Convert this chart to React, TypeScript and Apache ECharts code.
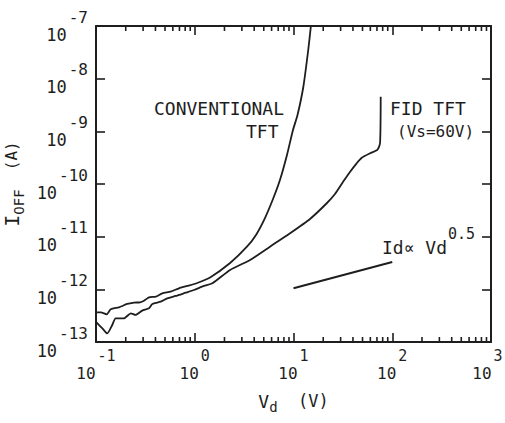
import React, { useEffect, useRef } from 'react';
import * as echarts from 'echarts';

// Conventional TFT (upper curve at low Vd)
const convVd = [0.1, 0.112, 0.128, 0.141, 0.171, 0.207, 0.243, 0.279, 0.306, 0.344, 0.403, 0.469, 0.57, 0.693, 0.841, 1.06, 1.43, 2.28, 3.36, 4.17, 5.14, 6.2, 7.29, 8.59, 9.88, 10.98, 12.57, 14.1, 15.0];
const convIoff = [3.66e-13, 3.66e-13, 3.36e-13, 4.18e-13, 4.56e-13, 5.27e-13, 5.58e-13, 5.68e-13, 6.08e-13, 7.06e-13, 7.25e-13, 8.41e-13, 9.02e-13, 1.047e-12, 1.158e-12, 1.32e-12, 1.68e-12, 3.16e-12, 6.37e-12, 1.08e-11, 2.26e-11, 5.19e-11, 1.19e-10, 3.56e-10, 1.06e-9, 2.04e-9, 6.95e-9, 3.5e-8, 1e-7];

// FID TFT (Vs = 60 V)
const fidVd = [0.1, 0.116, 0.13, 0.146, 0.158, 0.192, 0.225, 0.252, 0.294, 0.344, 0.372, 0.452, 0.527, 0.641, 0.809, 0.982, 1.24, 1.51, 2.28, 3.63, 5.78, 9.22, 14.7, 21.7, 26.3, 31.9, 37.3, 43.6, 49.1, 59.6, 70.6, 75.2, 76.4];
const fidIoff = [2.4e-13, 1.82e-13, 1.46e-13, 2.1e-13, 2.82e-13, 2.82e-13, 3.51e-13, 3.26e-13, 3.94e-13, 4.36e-13, 5.27e-13, 5.83e-13, 6.76e-13, 7.48e-13, 8.63e-13, 9.72e-13, 1.16e-12, 1.3e-12, 2.33e-12, 3.61e-12, 6.46e-12, 1.16e-11, 2.17e-11, 4.31e-11, 6.46e-11, 1.11e-10, 1.69e-10, 2.47e-10, 3.16e-10, 3.83e-10, 4.43e-10, 5.93e-10, 4.55e-9];

// Reference slope Id ∝ Vd^0.5
const slopeVd = [10, 100];
const slopeIoff = [1.05e-12, 3.3e-12];

// Axes
const xMin = 0.1;
const xMax = 1000;
const yMin = 1e-13;
const yMax = 1e-7;
const xDecades = [0.1, 1, 10, 100];
const minorMultipliers = [2, 3, 4, 5, 6, 7, 8, 9];

const FONT = 'DejaVu Sans Mono';
const INK = '#1e1e1e';

// minor tick values on the log x axis (2..9 in each decade)
const minorTicks: number[] = [];
xDecades.forEach((d) => minorMultipliers.forEach((m) => minorTicks.push(+(d * m).toPrecision(3))));

const toPairs = (xs: number[], ys: number[]) => xs.map((x, i) => [x, ys[i]]);
const expOf = (v: number) => String(Math.round(Math.log10(v)));

export default function App() {
  const ref = useRef<HTMLDivElement>(null);

  useEffect(() => {
    if (!ref.current) return;
    const chart = echarts.init(ref.current, undefined, { renderer: 'svg' });

    const lineStyle = { color: INK, width: 1.6 };
    const baseAxisLine = { show: true, onZero: false, lineStyle: { color: INK, width: 2 } };

    const xRich = {
      b: { fontFamily: FONT, fontSize: 16, color: INK, lineHeight: 33, verticalAlign: 'bottom' },
      e: { fontFamily: FONT, fontSize: 15, color: INK, lineHeight: 33, verticalAlign: 'top', padding: [0, 0, 0, 2] },
      el: { fontFamily: FONT, fontSize: 15, color: INK, lineHeight: 33, verticalAlign: 'top', padding: [0, 7, 0, 2] },
    };
    const yRich = {
      b: { fontFamily: FONT, fontSize: 17, color: INK, lineHeight: 34, verticalAlign: 'bottom' },
      e: { fontFamily: FONT, fontSize: 16, color: INK, lineHeight: 34, verticalAlign: 'top', padding: [0, 0, 0, 2] },
    };

    const xCommon = { type: 'log', logBase: 10, min: xMin, max: xMax, gridIndex: 0, splitLine: { show: false }, minorTick: { show: false } };
    const yCommon = { type: 'log', logBase: 10, min: yMin, max: yMax, gridIndex: 0, splitLine: { show: false }, minorTick: { show: false } };

    const majorTickLen = 9;
    const minorTickLen = 5;

    const option: any = {
      animation: false,
      backgroundColor: '#ffffff',
      grid: { left: 96, right: 14, top: 26, bottom: 81, containLabel: false, outerBoundsMode: 'none' },
      xAxis: [
        {
          ...xCommon,
          position: 'bottom',
          axisLine: baseAxisLine,
          axisTick: { show: true, inside: true, length: majorTickLen, lineStyle },
          axisLabel: {
            show: true,
            margin: 6,
            showMinLabel: true,
            showMaxLabel: true,
            formatter: (v: number) => (v >= xMax * 0.999 ? `{b|10}{el|${expOf(v)}}` : `{b|10}{e|${expOf(v)}}`),
            rich: xRich,
          },
          name: '{v|V}{s|d}{n|  (V)}',
          nameLocation: 'middle',
          nameGap: 46,
          nameTextStyle: {
            rich: {
              v: { fontFamily: FONT, fontSize: 18, color: INK, lineHeight: 26, verticalAlign: 'middle' },
              s: { fontFamily: FONT, fontSize: 14, color: INK, lineHeight: 26, verticalAlign: 'bottom' },
              n: { fontFamily: FONT, fontSize: 17, color: INK, lineHeight: 26, verticalAlign: 'middle' },
            },
          },
        },
        {
          ...xCommon,
          position: 'top',
          axisLine: baseAxisLine,
          axisTick: { show: true, inside: true, length: majorTickLen, lineStyle },
          axisLabel: { show: false },
        },
      ],
      yAxis: [
        {
          ...yCommon,
          position: 'left',
          axisLine: baseAxisLine,
          axisTick: { show: true, inside: true, length: majorTickLen, lineStyle },
          axisLabel: {
            show: true,
            margin: 8,
            showMinLabel: true,
            showMaxLabel: true,
            formatter: (v: number) => `{b|10}{e|${expOf(v)}}`,
            rich: yRich,
          },
          name: '{i|I}{s|OFF}{n|  (A)}',
          nameLocation: 'middle',
          nameGap: 64,
          nameRotate: 90,
          nameTextStyle: {
            rich: {
              i: { fontFamily: FONT, fontSize: 20, color: INK, lineHeight: 28, verticalAlign: 'middle' },
              s: { fontFamily: FONT, fontSize: 14, color: INK, lineHeight: 28, verticalAlign: 'bottom' },
              n: { fontFamily: FONT, fontSize: 16, color: INK, lineHeight: 28, verticalAlign: 'middle' },
            },
          },
        },
        {
          ...yCommon,
          position: 'right',
          axisLine: baseAxisLine,
          axisTick: { show: true, inside: true, length: majorTickLen, lineStyle },
          axisLabel: { show: false },
        },
      ],
      series: [
        {
          name: 'minor ticks',
          type: 'custom',
          xAxisIndex: 0,
          yAxisIndex: 0,
          silent: true,
          clip: false,
          data: minorTicks.map((v) => [v, yMin]),
          renderItem: (_params: any, api: any) => {
            const x = api.value(0);
            const pb = api.coord([x, yMin]);
            const pt = api.coord([x, yMax]);
            const style = { stroke: INK, lineWidth: 1.6 };
            return {
              type: 'group',
              children: [
                { type: 'line', shape: { x1: pb[0], y1: pb[1], x2: pb[0], y2: pb[1] - minorTickLen }, style },
                { type: 'line', shape: { x1: pt[0], y1: pt[1], x2: pt[0], y2: pt[1] + minorTickLen }, style },
              ],
            };
          },
        },
        {
          name: 'CONVENTIONAL TFT',
          type: 'line',
          xAxisIndex: 0,
          yAxisIndex: 0,
          data: toPairs(convVd, convIoff),
          showSymbol: false,
          smooth: 0.2,
          lineStyle: { color: INK, width: 1.8 },
          silent: true,
        },
        {
          name: 'FID TFT',
          type: 'line',
          xAxisIndex: 0,
          yAxisIndex: 0,
          data: toPairs(fidVd, fidIoff),
          showSymbol: false,
          smooth: 0.2,
          lineStyle: { color: INK, width: 1.8 },
          silent: true,
        },
        {
          name: 'slope',
          type: 'line',
          xAxisIndex: 0,
          yAxisIndex: 0,
          data: toPairs(slopeVd, slopeIoff),
          showSymbol: false,
          lineStyle: { color: INK, width: 2 },
          silent: true,
        },
      ],
      graphic: [
        { type: 'text', x: 154, y: 108, style: { text: 'CONVENTIONAL', fontFamily: FONT, fontSize: 18, fill: INK, verticalAlign: 'middle' } },
        { type: 'text', x: 246, y: 131, style: { text: 'TFT', fontFamily: FONT, fontSize: 18, fill: INK, verticalAlign: 'middle' } },
        { type: 'text', x: 390, y: 108, style: { text: 'FID TFT', fontFamily: FONT, fontSize: 18, fill: INK, verticalAlign: 'middle' } },
        { type: 'text', x: 397, y: 131, style: { text: '(Vs=60V)', fontFamily: FONT, fontSize: 16, fill: INK, verticalAlign: 'middle' } },
        {
          type: 'text',
          x: 382,
          y: 241,
          style: {
            text: '{m|Id∝ Vd}{e|0.5}',
            verticalAlign: 'middle',
            rich: {
              m: { fontFamily: FONT, fontSize: 18, fill: INK, lineHeight: 30, verticalAlign: 'bottom' },
              e: { fontFamily: FONT, fontSize: 15, fill: INK, lineHeight: 30, verticalAlign: 'top', padding: [0, 0, 0, 1] },
            },
          },
        },
      ],
    };

    chart.setOption(option);
    return () => chart.dispose();
  }, []);

  return <div ref={ref} style={{ position: 'fixed', left: 0, top: 0, width: 505, height: 423, background: '#fff' }} />;
}
